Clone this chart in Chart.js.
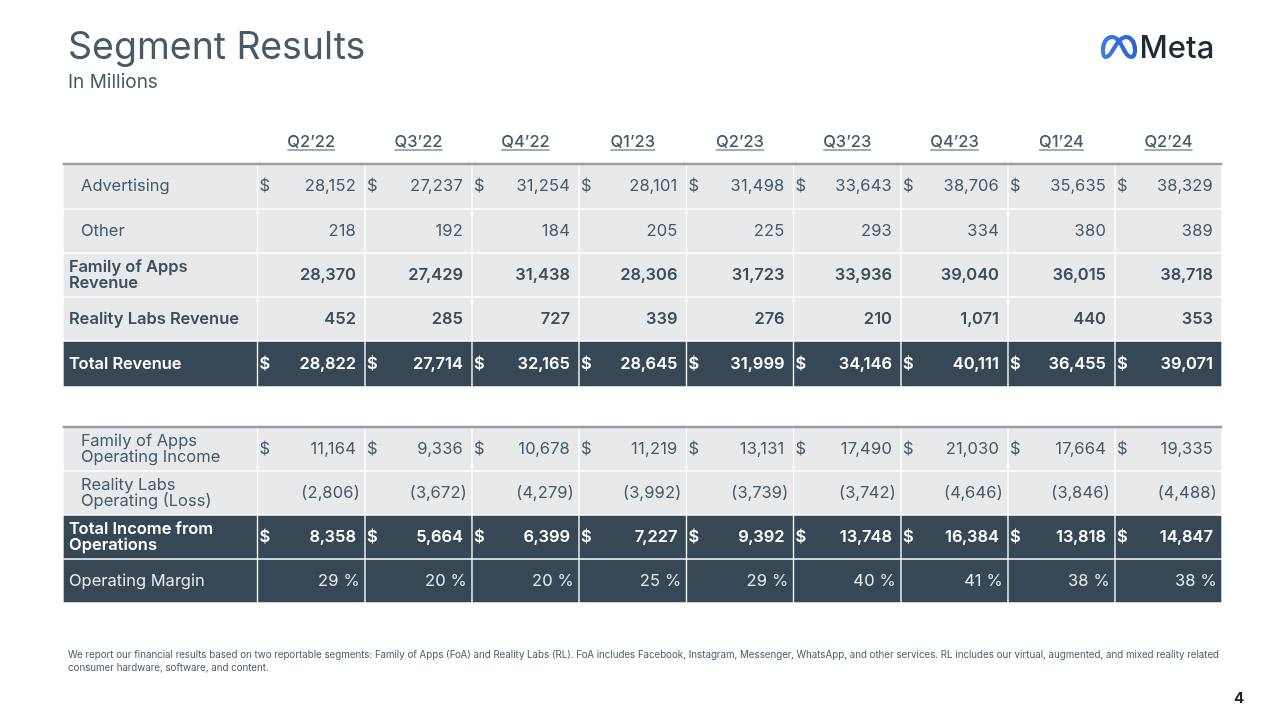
<!DOCTYPE html>
<html>
<head>
<meta charset="utf-8">
<title>Segment Results</title>
<script src="https://cdn.jsdelivr.net/npm/chart.js@4"></script>
<style>
  html, body { margin: 0; padding: 0; background: #fff; }
  body { width: 1280px; height: 724px; position: relative; overflow: hidden; font-family: Inter, sans-serif; color: #465a69; }
  canvas { position: absolute; left: 0; top: 0; }
  .title { position: absolute; left: 68px; top: 25px; font-size: 37.5px; line-height: 42px; }
  .sub { position: absolute; left: 68px; top: 71px; font-size: 19px; line-height: 22px; }
  .note { position: absolute; left: 68px; top: 648px; width: 1180px; font-size: 9.74px; line-height: 13px; color: #465a69; }
  .page { position: absolute; left: 1234px; top: 688px; font-size: 15px; font-weight: 700; color: #222; }
  .logo { position: absolute; left: 1100px; top: 32px; }
</style>
</head>
<body>
<canvas id="table" width="1280" height="724"></canvas>
<div class="title">Segment Results</div>
<div class="sub">In Millions</div>
<svg class="logo" width="120" height="32" viewBox="0 0 120 32">
  <defs><linearGradient id="mg" x1="0" y1="0" x2="1" y2="0"><stop offset="0" stop-color="#3f7be0"/><stop offset="1" stop-color="#2a63cf"/></linearGradient></defs>
  <path d="M3 18 C3 10 7 5 12 5 C17 5 20 10 23 16 C26 22 28 25 31 25 C33.5 25 35 23 35 18 C35 10 31 5 26 5 C21 5 17 11 13 18 C10 23 8 25 6 25 C4 25 3 23 3 18Z" fill="none" stroke="url(#mg)" stroke-width="4.2"/>
  <text x="39.5" y="26" font-family="Inter, sans-serif" font-size="31" font-weight="500" fill="#1f2a33">Meta</text>
</svg>
<div class="note">We report our financial results based on two reportable segments: Family of Apps (FoA) and Reality Labs (RL). FoA includes Facebook, Instagram, Messenger, WhatsApp, and other services. RL includes our virtual, augmented, and mixed reality related<br>consumer hardware, software, and content.</div>
<div class="page">4</div>
<script>
// table values
const quarters = ["Q2’22", "Q3’22", "Q4’22", "Q1’23", "Q2’23", "Q3’23", "Q4’23", "Q1’24", "Q2’24"];
const advertising = [28152, 27237, 31254, 28101, 31498, 33643, 38706, 35635, 38329];
const other = [218, 192, 184, 205, 225, 293, 334, 380, 389];
const familyOfApps = [28370, 27429, 31438, 28306, 31723, 33936, 39040, 36015, 38718];
const realityLabs = [452, 285, 727, 339, 276, 210, 1071, 440, 353];
const totalRevenue = [28822, 27714, 32165, 28645, 31999, 34146, 40111, 36455, 39071];
const foaIncome = [11164, 9336, 10678, 11219, 13131, 17490, 21030, 17664, 19335];
const rlLoss = [-2806, -3672, -4279, -3992, -3739, -3742, -4646, -3846, -4488];
const totalIncome = [8358, 5664, 6399, 7227, 9392, 13748, 16384, 13818, 14847];
const operatingMargin = [29, 20, 20, 25, 29, 40, 41, 38, 38];

const GREY = '#e8e9eb';
const DARK = '#364855';
const INK = '#465a69';
const INK_BOLD = '#3b4e5c';
const FONT = 'Inter, sans-serif';

// column edges and row bands, in slide pixels
const colEdges = [63, 257.5, 365, 472, 579, 686.5, 793.5, 901, 1008, 1115, 1222];

const rows = [
    { label: ['Advertising'], values: advertising, top: 164, bottom: 209, dollar: true, indent: 18, bold: false, fill: GREY },
    { label: ['Other'], values: other, top: 209, bottom: 253, dollar: false, indent: 18, bold: false, fill: GREY },
    { label: ['Family of Apps', 'Revenue'], values: familyOfApps, top: 253, bottom: 297, dollar: false, indent: 6, bold: true, fill: GREY },
    { label: ['Reality Labs Revenue'], values: realityLabs, top: 297, bottom: 341, dollar: false, indent: 6, bold: true, fill: GREY },
    { label: ['Total Revenue'], values: totalRevenue, top: 341, bottom: 387, dollar: true, indent: 6, bold: true, fill: DARK },
    { label: ['Family of Apps', 'Operating Income'], values: foaIncome, top: 427, bottom: 471, dollar: true, indent: 18, bold: false, fill: GREY },
    { label: ['Reality Labs', 'Operating (Loss)'], values: rlLoss, top: 471, bottom: 515, dollar: false, indent: 18, bold: false, fill: GREY },
    { label: ['Total Income from', 'Operations'], values: totalIncome, top: 515, bottom: 559, dollar: true, indent: 6, bold: true, fill: DARK },
    { label: ['Operating Margin'], values: operatingMargin, top: 559, bottom: 603, dollar: false, indent: 6, bold: false, fill: DARK, percent: true }
];

// the rules above each block of rows
const ruleRows = [164, 427];

function formatValue(row, v) {
    if (row.percent) return v + ' %';
    if (v < 0) return '(' + Math.abs(v).toLocaleString('en-US') + ')';
    return v.toLocaleString('en-US');
}

function textColor(row) {
    if (row.fill === DARK) return row.bold ? '#ffffff' : GREY;
    return row.bold ? INK_BOLD : INK;
}

const cellDatasets = rows.map(row => ({
    data: colEdges.slice(0, -1).map((left, i) => ({ x: [left, colEdges[i + 1]], y: (row.top + row.bottom) / 2 })),
    backgroundColor: row.fill,
    borderColor: '#ffffff',
    borderWidth: 1,
    borderSkipped: false,
    barThickness: row.bottom - row.top,
    grouped: false
}));

const ruleDatasets = ruleRows.map(y => ({
    data: [{ x: [colEdges[0], colEdges[colEdges.length - 1]], y: y }],
    backgroundColor: '#9a9ea3',
    barThickness: 2,
    grouped: false
}));

// writes the header and the cell text at the scale positions
const cellText = {
    id: 'cellText',
    afterDatasetsDraw(chart) {
        const ctx = chart.ctx;
        const xs = chart.scales.x;
        const ys = chart.scales.y;
        ctx.save();
        ctx.textBaseline = 'middle';

        ctx.font = '500 16.5px ' + FONT;
        ctx.fillStyle = INK;
        ctx.textAlign = 'center';
        quarters.forEach((q, i) => {
            const cx = xs.getPixelForValue((colEdges[i + 1] + colEdges[i + 2]) / 2);
            const w = ctx.measureText(q).width;
            const py = ys.getPixelForValue(142);
            ctx.fillText(q, cx, py);
            ctx.fillRect(cx - w / 2, py + 7.5, w, 1);
        });

        rows.forEach(row => {
            const mid = (row.top + row.bottom) / 2;
            ctx.fillStyle = textColor(row);
            ctx.font = (row.bold ? '600' : '400') + ' 16.5px ' + FONT;

            ctx.textAlign = 'left';
            ctx.letterSpacing = '0px';
            row.label.forEach((line, k) => {
                const off = (k - (row.label.length - 1) / 2) * 16;
                ctx.fillText(line, xs.getPixelForValue(colEdges[0] + row.indent), ys.getPixelForValue(mid + off));
            });

            ctx.letterSpacing = row.bold ? '0px' : '0.2px';
            row.values.forEach((v, i) => {
                const left = colEdges[i + 1];
                const right = colEdges[i + 2];
                if (row.dollar) {
                    ctx.textAlign = 'left';
                    ctx.fillText('$', xs.getPixelForValue(left + 2), ys.getPixelForValue(mid));
                }
                ctx.textAlign = 'right';
                const pad = (v < 0 || row.percent) ? 5 : 9;
                ctx.fillText(formatValue(row, v), xs.getPixelForValue(right - pad), ys.getPixelForValue(mid));
            });
        });
        ctx.restore();
    }
};

// chart.js paints the first dataset last, so the rules go first to stay on top
new Chart(document.getElementById('table'), {
    type: 'bar',
    data: { datasets: ruleDatasets.concat(cellDatasets) },
    options: {
        indexAxis: 'y',
        responsive: false,
        animation: false,
        layout: { padding: 0 },
        scales: {
            x: { type: 'linear', min: 0, max: 1280, display: false },
            y: { type: 'linear', min: 0, max: 724, reverse: true, offset: false, display: false }
        },
        plugins: { legend: { display: false }, tooltip: { enabled: false } }
    },
    plugins: [cellText]
});
</script>
</body>
</html>
